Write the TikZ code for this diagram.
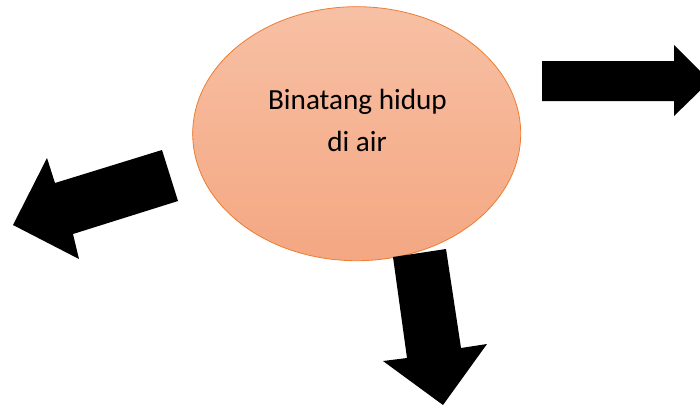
\documentclass[tikz,border=0pt]{standalone}
\usepackage{fontspec}
\setmainfont{Carlito}
\usetikzlibrary{shapes.geometric}
\definecolor{blobtop}{RGB}{247,192,164}
\definecolor{blobbot}{RGB}{244,167,130}
\definecolor{blobline}{RGB}{237,125,49}
\begin{document}
\begin{tikzpicture}[x=1pt,y=-1pt,
  blob/.style={ellipse, draw=blobline, line width=0.8pt, top color=blobtop, bottom color=blobbot,
    minimum width=328pt, minimum height=254pt, inner sep=0pt},
  lbl/.style={font=\fontsize{29.2}{42}\selectfont, text=black, inner sep=0pt},
  blockarrow/.style={fill=black, draw=none}]
\useasboundingbox (0,0) rectangle (700,405);
\clip (0,0) rectangle (700,405);
\node[blob] (e) at (356.7,133.7) {};
\node[lbl, anchor=base] (t1) at (357.5,109) {Binatang hidup};
\node[lbl, anchor=base] (t2) at (357,151) {di air};
% left arrow
\fill[blockarrow] (162,150) -- (178,201) -- (73,234) -- (79,259) -- (13,225) -- (47,158) -- (55,183) -- cycle;
% right arrow
\fill[blockarrow] (542,61) -- (674,61) -- (674,45) -- (710,81) -- (674,116) -- (674,101) -- (542,101) -- cycle;
% down arrow
\fill[blockarrow] (393,257) -- (446,249) -- (461,348) -- (487,344) -- (443,405) -- (383,361) -- (407,358) -- cycle;
\end{tikzpicture}
\end{document}
